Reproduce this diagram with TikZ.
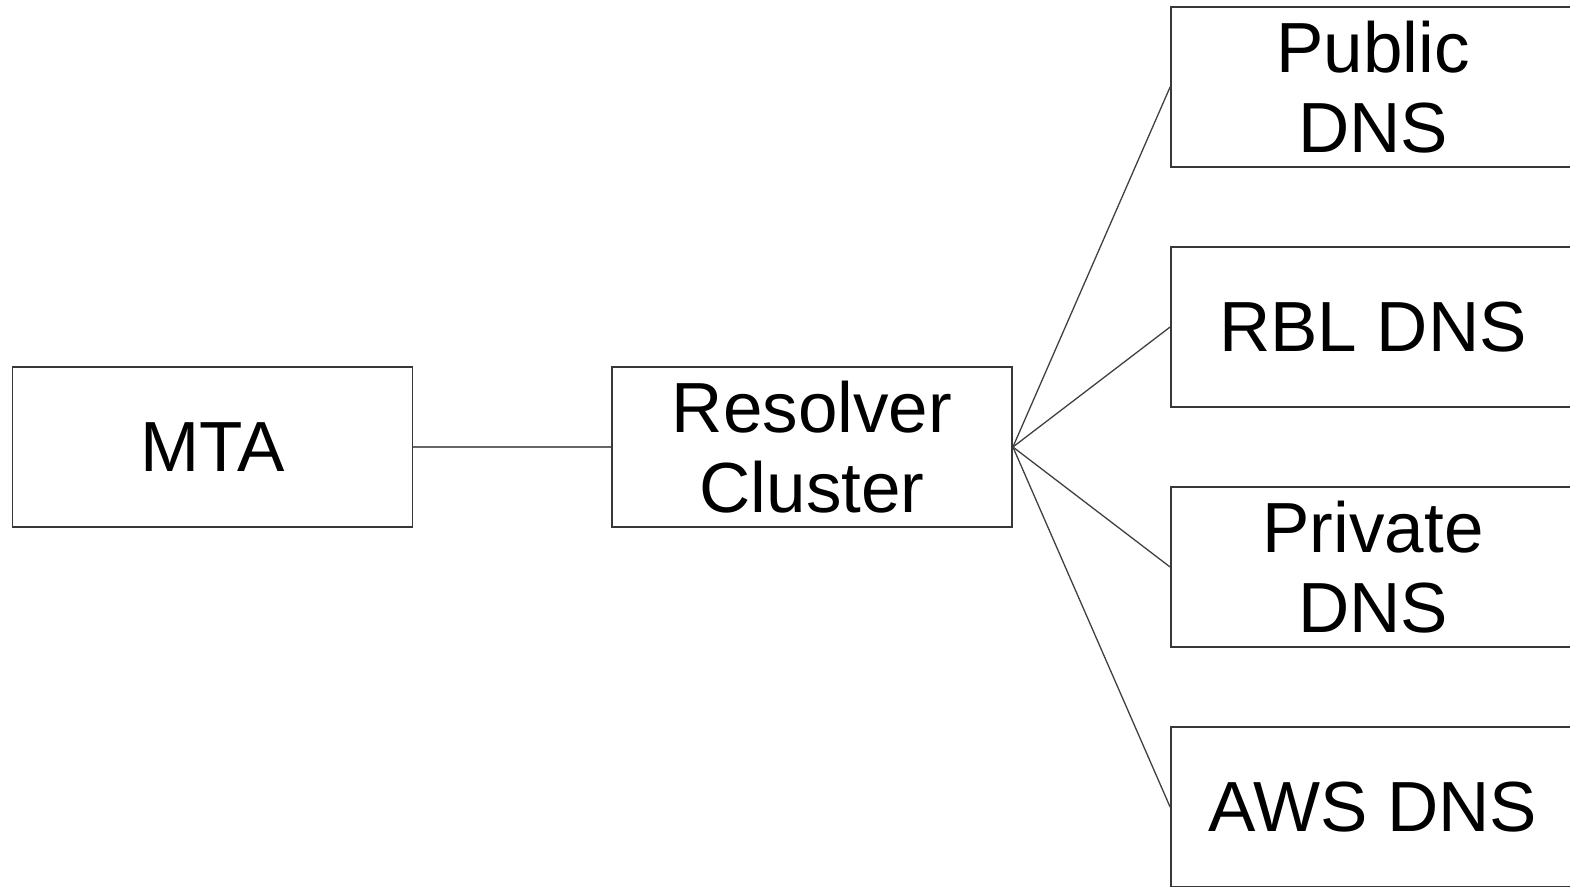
\documentclass[tikz,border=0pt]{standalone}
\usepackage{fontspec}
\setmainfont{Liberation Sans}
\tikzset{
  x=1pt, y=-1pt,
  box/.style={draw=black!78, line width=1.8pt, fill=white, rectangle,
    minimum width=400pt, minimum height=160pt, inner sep=0pt, align=center,
    font=\fontsize{71}{80.5}\selectfont},
  dnsbox/.style={box, minimum width=404pt},
  link/.style={draw=black!60, line width=1.8pt},
  fan/.style={draw=black!75, line width=1.3pt}
}
\begin{document}
\begin{tikzpicture}
\useasboundingbox (0,0) rectangle (1570,886);
% main chain
\node[box] (mta) at (212.5,447) {MTA};
\node[box] (res) at (812,447) {Resolver\\Cluster};
% upstream DNS servers
\node[dnsbox] (pub) at (1373,87) {Public\\DNS};
\node[dnsbox] (rbl) at (1373,327) {RBL DNS};
\node[dnsbox] (prv) at (1373,567) {Private\\DNS};
\node[dnsbox] (aws) at (1373,807) {AWS DNS};
% connectors
\draw[link] (mta.east) -- (res.west);
\foreach \t in {pub,rbl,prv,aws}
  \draw[fan] (res.east) -- (\t.west);
\end{tikzpicture}
\end{document}
